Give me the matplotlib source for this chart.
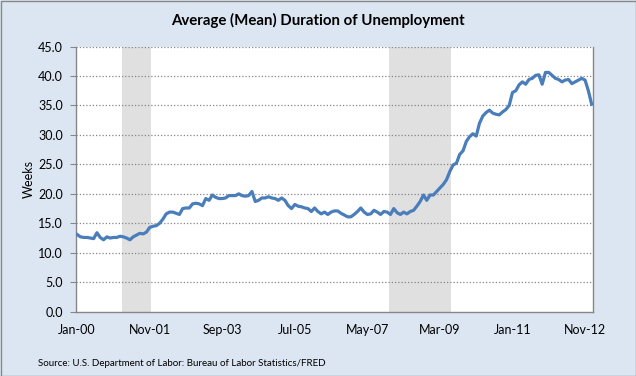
import numpy as np
import pandas as pd
import matplotlib
matplotlib.use("Agg")
import matplotlib.pyplot as plt
from matplotlib.patches import Rectangle

# monthly mean duration of unemployment (weeks), Jan 2000 .. Jan 2013
months = pd.date_range("2000-01-01", periods=157, freq="MS")
weeks = [
    13.1, 12.7, 12.6, 12.6, 12.5, 12.4, 13.4, 12.6, 12.2, 12.7, 12.5, 12.6,  # 2000
    12.6, 12.8, 12.7, 12.5, 12.2, 12.7, 13.0, 13.3, 13.2, 13.5, 14.3, 14.5,  # 2001
    14.6, 15.0, 15.7, 16.6, 16.9, 16.9, 16.7, 16.5, 17.5, 17.6, 17.6, 18.3,  # 2002
    18.4, 18.3, 18.0, 19.2, 18.9, 19.8, 19.4, 19.2, 19.2, 19.3, 19.7, 19.7,  # 2003
    19.7, 20.0, 19.7, 19.6, 19.7, 20.4, 18.7, 18.9, 19.3, 19.3, 19.5, 19.3,  # 2004
    19.2, 18.9, 19.3, 18.9, 18.0, 17.5, 18.2, 17.9, 17.8, 17.6, 17.5, 17.0,  # 2005
    17.6, 17.0, 16.6, 16.9, 16.5, 16.9, 17.1, 17.1, 16.7, 16.4, 16.1, 16.1,  # 2006
    16.5, 17.0, 17.6, 16.9, 16.5, 16.6, 17.2, 16.9, 16.5, 17.0, 16.9, 16.5,  # 2007
    17.5, 16.8, 16.5, 16.9, 16.6, 17.0, 17.2, 17.9, 18.7, 19.8, 18.9, 19.8,  # 2008
    19.8, 20.4, 21.0, 21.6, 22.4, 23.8, 24.9, 25.2, 26.7, 27.3, 28.9, 29.7,  # 2009
    30.2, 29.8, 32.0, 33.2, 33.8, 34.2, 33.7, 33.5, 33.4, 33.9, 34.3, 35.0,  # 2010
    37.2, 37.5, 38.5, 39.0, 38.6, 39.4, 39.6, 40.1, 40.2, 38.6, 40.6, 40.6,  # 2011
    40.1, 39.6, 39.4, 39.0, 39.3, 39.4, 38.7, 39.0, 39.3, 39.6, 39.3, 37.5,  # 2012
    35.2,                                                                    # 2013
]

# NBER recessions (first and last month)
recessions = [("2001-03-01", "2001-11-01"), ("2007-12-01", "2009-06-01")]

tick_labels = ["Jan-00", "Nov-01", "Sep-03", "Jul-05", "May-07", "Mar-09", "Jan-11", "Nov-12"]
tick_pos = [months.get_loc(pd.Timestamp(d)) for d in
            ["2000-01-01", "2001-11-01", "2003-09-01", "2005-07-01",
             "2007-05-01", "2009-03-01", "2011-01-01", "2012-11-01"]]

bg = "#DCE6F2"
grid_col = "#868686"

plt.rcParams["font.family"] = ["Lato", "DejaVu Sans"]

fig = plt.figure(figsize=(6.36, 3.76), dpi=100, facecolor=bg)
ax = fig.add_axes([75.5 / 636, 1 - 311.7 / 376, (593.3 - 75.5) / 636, (311.7 - 46.5) / 376])
ax.set_facecolor("white")

x = np.arange(len(weeks))
for start, end in recessions:
    i0 = months.get_loc(pd.Timestamp(start))
    i1 = months.get_loc(pd.Timestamp(end))
    ax.axvspan(i0 - 0.5, i1 + 0.5, color="#E0E0E0", lw=0, zorder=0.5)

ax.plot(x, weeks, color="#4A7EBB", lw=2.3, solid_joinstyle="round", zorder=3)

ax.set_xlim(-0.5, len(weeks) - 0.5)
ax.set_ylim(0, 45)
ax.set_yticks(np.arange(0, 46, 5))
ax.set_yticklabels([f"{v:.1f}" for v in np.arange(0, 46, 5)], fontsize=9)
ax.set_xticks(tick_pos)
ax.set_xticklabels(tick_labels, fontsize=9)
ax.tick_params(axis="x", length=0, pad=9)
ax.tick_params(axis="y", length=4, width=0.8, color=grid_col, pad=5)

for v in np.arange(5, 46, 5):
    ax.axhline(v, color=grid_col, lw=0.9, ls=(0, (1, 1.6)), zorder=1)

ax.spines["top"].set_visible(False)
for s in ["left", "bottom", "right"]:
    ax.spines[s].set_color(grid_col)
    ax.spines[s].set_linewidth(1.0)

ax.set_ylabel("Weeks", fontsize=9, labelpad=2.5)

fig.text(318 / 636, 1 - 20 / 376, "Average (Mean) Duration of Unemployment",
         ha="center", va="center", fontsize=10.8, fontweight="bold")
fig.text(38 / 636, 1 - 364 / 376, "Source: U.S. Department of Labor: Bureau of Labor Statistics/FRED",
         ha="left", va="center", fontsize=7)

fig.patches.append(Rectangle((0.5 / 636, 0.5 / 376), 635 / 636, 375 / 376,
                             transform=fig.transFigure, fill=False,
                             edgecolor="#888888", lw=1.0))

fig.savefig("out.png", dpi=100, facecolor=bg)
